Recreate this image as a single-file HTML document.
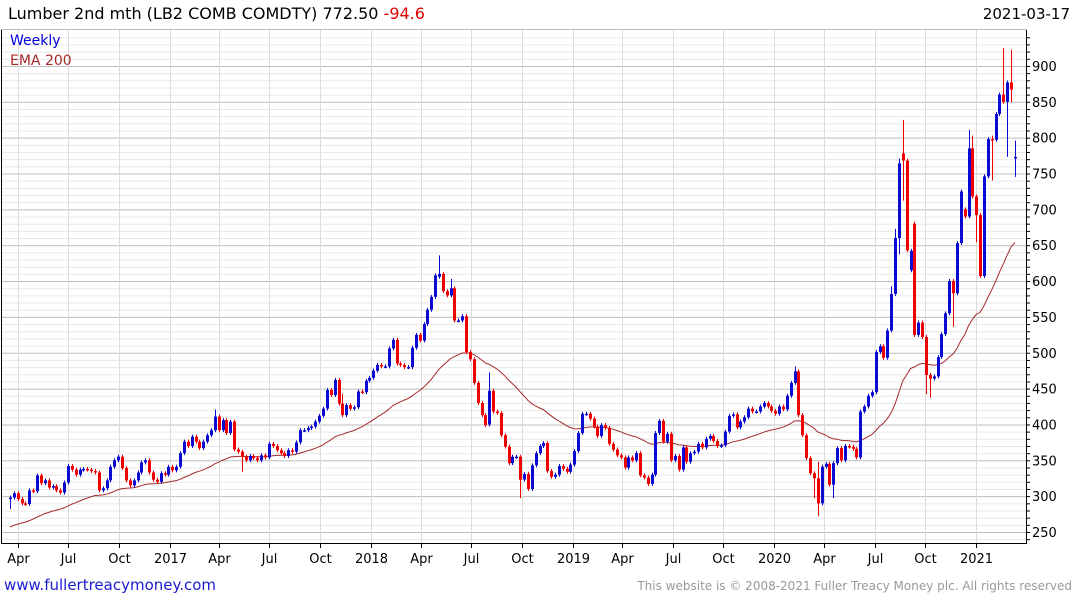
<!DOCTYPE html>
<html><head><meta charset="utf-8"><style>
body{margin:0;background:#fff;width:1075px;height:600px;overflow:hidden;font-family:"DejaVu Sans","Liberation Sans",sans-serif}
svg{display:block}
</style></head><body>
<svg id="chart" width="1075" height="600" xmlns="http://www.w3.org/2000/svg" font-family="DejaVu Sans, Liberation Sans, sans-serif">
<text x="8" y="19" font-size="16" fill="#000">Lumber 2nd mth (LB2 COMB COMDTY) 772.50 <tspan fill="#e00000">-94.6</tspan></text>
<text x="1070" y="19" font-size="15" text-anchor="end" fill="#000">2021-03-17</text>
<g id="grid"></g>
<clipPath id="clip"><rect x="2" y="30" width="1024" height="513"/></clipPath>
<g id="plot" clip-path="url(#clip)"></g>
<g id="axes"></g>
<text x="10" y="45" font-size="14" fill="#0000e0">Weekly</text>
<text x="10" y="65" font-size="14" fill="#a52a2a">EMA 200</text>
<text x="4" y="590" font-size="15" fill="#1a1ad0">www.fullertreacymoney.com</text>
<text x="1072" y="590" font-size="12" text-anchor="end" fill="#999">This website is © 2008-2021 Fuller Treacy Money plc. All rights reserved</text>
</svg>
<script>
const closes=[298,304,296,290,289,308,307,329,318,322,312,314,308,305,
319,342,337,330,337,338,337,335,333,308,311,322,341,350,
355,339,322,315,322,333,347,350,333,323,320,332,330,341,
336,341,360,376,370,383,376,367,376,385,392,411,392,406,
388,404,365,362,355,350,356,353,350,357,354,373,370,364,
360,356,364,362,375,392,392,395,397,404,412,422,448,441,
462,429,413,427,422,424,446,445,461,465,475,483,481,481,
506,518,485,483,480,480,507,525,517,540,560,578,608,610,
586,580,590,545,545,551,501,491,458,430,413,399,447,418,
416,385,369,346,355,355,323,331,310,343,360,370,374,335,
327,330,342,338,334,344,363,388,415,415,408,397,384,399,
395,373,365,357,354,340,354,350,360,329,326,317,330,388,
405,376,387,350,356,337,368,348,360,362,373,368,380,384,
377,370,371,390,412,414,396,404,410,422,418,418,425,430,
425,419,415,425,421,440,458,474,413,385,353,332,325,290,
341,345,316,346,367,350,370,369,366,354,418,425,440,445,
501,509,493,531,582,660,764,768,643,642,525,542,522,469,
464,467,494,526,555,600,583,653,725,690,785,718,692,607,
746,798,797,833,860,850,877,867,773];
const openOverrides={111:606,231:778,233:615,247:700,260:771,124:400,220:354,234:680,252:607};
const highSpikes={53:418,111:633,124:470,203:478,209:345,230:768,231:822,244:600,248:808,249:800,254:800,257:922,259:920,260:793,114:600,86:440,228:590,229:670};
const lowSpikes={0:285,60:337,124:500,132:300,209:275,208:300,244:539,250:657,254:743,258:776,259:852,260:748,230:640,231:715,237:445,238:440,213:300};
const yTicks=[250,300,350,400,450,500,550,600,650,700,750,800,850,900];
const xLabels=["Apr","Jul","Oct","2017","Apr","Jul","Oct","2018","Apr","Jul","Oct","2019","Apr","Jul","Oct","2020","Apr","Jul","Oct","2021"];
const xLabelDates=["2016-04-01","2016-07-01","2016-10-01","2017-01-01","2017-04-01","2017-07-01","2017-10-01","2018-01-01","2018-04-01","2018-07-01","2018-10-01","2019-01-01","2019-04-01","2019-07-01","2019-10-01","2020-01-01","2020-04-01","2020-07-01","2020-10-01","2021-01-01"];
const emaSeed=257, emaPeriod=40;

(function(){
const NS="http://www.w3.org/2000/svg";
const X0=10, PXW=3.865;
function xi(i){return X0+i*PXW;}
function xDate(s){const d=(Date.parse(s+"T00:00:00Z")-Date.parse("2017-01-01T00:00:00Z"))/86400000;return 169.5+d/7*PXW;}
function y(v){return 532-(v-250)*0.717;}
function mk(tag,attrs,parent){const e=document.createElementNS(NS,tag);for(const k in attrs)e.setAttribute(k,attrs[k]);parent.appendChild(e);return e;}
const grid=document.getElementById('grid'),plot=document.getElementById('plot'),axes=document.getElementById('axes');
for(let v=240;v<=940;v+=10){if(y(v)<30||y(v)>543)continue;
 const l=mk('line',{x1:2,x2:1026,y1:y(v)+0.5,y2:y(v)+0.5,stroke:(v%50===0)?'#bdbdbd':'#e8e8e8','stroke-width':1},grid);
 
 
 const t=mk('line',{x1:1026,x2:1030,y1:y(v)+0.5,y2:y(v)+0.5,stroke:'#000','stroke-width':1},axes);
 
 
}
xLabelDates.forEach((d,k)=>{const x=Math.round(xDate(d))+0.5;
 const g=mk('line',{x1:x,x2:x,y1:30,y2:543,stroke:'#dcdcdc','stroke-width':1},grid);
 
 
 const t=mk('line',{x1:x,x2:x,y1:543,y2:548,stroke:'#000','stroke-width':1},axes);
 
 
 const tx=mk('text',{x:x,y:563,'font-size':13,'text-anchor':'middle',fill:'#000'},axes);
 tx.textContent=xLabels[k];
 
 
});
yTicks.forEach(v=>{const t=mk('text',{x:1032,y:y(v)+5,'font-size':13,fill:'#000'},axes);
 t.textContent=v;
 
 
});
const ax=mk('path',{d:'M1.5 30 V543.5 H1026.5 V30',fill:'none',stroke:'#000','stroke-width':1},axes);


const topBorder=mk('line',{x1:1,x2:1027,y1:29.5,y2:29.5,stroke:'#bbb'},axes);


let ema=emaSeed;const a=2/(emaPeriod+1);let pts=[];
closes.forEach((c,i)=>{if(i>0)ema=ema+a*(c-ema);pts.push(xi(i).toFixed(1)+','+y(ema).toFixed(1));});
const el=mk('polyline',{points:pts.join(' '),fill:'none',stroke:'#a52a2a','stroke-width':1},plot);


closes.forEach((c,i)=>{
 const o=(openOverrides[i]!==undefined)?openOverrides[i]:(i>0?closes[i-1]:c);
 const up=c>=o, col=up?'#0a0ad2':'#f00000';
 const hi=Math.max(o,c,highSpikes[i]||0), lo=Math.min(o,c,lowSpikes[i]||9999);
 const x=Math.round(xi(i));
 const yt=y(Math.max(o,c)), yb=y(Math.min(o,c));
 const w=mk('line',{x1:x+0.5,x2:x+0.5,y1:y(hi)-2,y2:y(lo)+2,stroke:col,'stroke-width':1},plot);
 
 
 const b=mk('rect',{x:x-1,y:yt,width:3,height:Math.max(1.5,yb-yt),fill:col},plot);
 
 
});
})();
</script>
</body></html>
